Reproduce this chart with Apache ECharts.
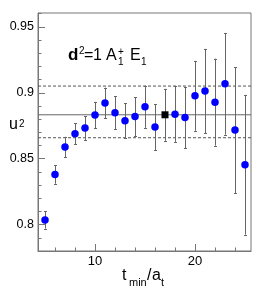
<!DOCTYPE html>
<html><head><meta charset="utf-8">
<script src="https://cdn.jsdelivr.net/npm/echarts@6/dist/echarts.min.js"></script>
<style>html,body{margin:0;padding:0;background:#fff}#c{width:266px;height:297px}</style>
</head><body><div id="c"></div>
<script>
// ---- data ----
const tmin  = [5, 6, 7, 8, 9, 10, 11, 12, 13, 14, 15, 16, 17, 18, 19, 20, 21, 22, 23, 24, 25];
const u2    = [0.8036, 0.8380, 0.8588, 0.8689, 0.8732, 0.8831, 0.8922, 0.8848, 0.8788, 0.8820, 0.8894,
               0.8740, 0.8833, 0.8838, 0.8813, 0.8977, 0.9013, 0.8929, 0.9068, 0.8717, 0.8454];
const u2err = [0.0066, 0.0070, 0.0078, 0.0080, 0.0090, 0.0100, 0.0117, 0.0124, 0.0134, 0.0148, 0.0160,
               0.0175, 0.0197, 0.0210, 0.0233, 0.0265, 0.0320, 0.0330, 0.0386, 0.0478, 0.0530];
const chosenT  = 17;
const fitValue = 0.8833;
const fitUpper = 0.9051;
const fitLower = 0.8659;
const xMajorTicks = [10, 20];
const xMinorTicks = [6, 8, 12, 14, 16, 18, 22, 24];
const yMajorTicks = [0.8, 0.85, 0.9, 0.95];
const yMinorTicks = [0.78, 0.79, 0.81, 0.82, 0.83, 0.84, 0.86, 0.87, 0.88, 0.89, 0.91, 0.92, 0.93, 0.94, 0.96];

// ---- chart ----
const FONT = 'Liberation Sans, Arial, sans-serif';
const AX = '#777';
const chart = echarts.init(document.getElementById('c'), null, {renderer: 'canvas'});
const XMIN = 4.3, XMAX = 25.6, YMIN = 0.78, YMAX = 0.9605;

const blueData = [], sqData = [], errData = [];
tmin.forEach((t, i) => {
  if (t === chosenT) sqData.push([t, u2[i]]); else blueData.push([t, u2[i]]);
  errData.push([t, u2[i] - u2err[i], u2[i] + u2err[i]]);
});

function txt(text, x, y, size, bold) {
  return {type: 'text', x: x, y: y, z: 10, style: {
    text: text, font: (bold ? 'bold ' : '') + size + 'px ' + FONT,
    fill: '#000', textVerticalAlign: 'bottom'}};
}
function hline(v, dashed) {
  return {
    type: 'line', xAxisIndex: 0, yAxisIndex: 0, z: 1, silent: true,
    data: [[XMIN, v], [XMAX, v]], symbol: 'none',
    lineStyle: {color: dashed ? '#555' : '#666', width: 1, type: dashed ? [3, 2] : 'solid'}
  };
}

chart.setOption({
  animation: false,
  grid: {left: 38, right: 15, top: 13, bottom: 46, show: true, borderColor: AX, borderWidth: 1, backgroundColor: 'transparent'},
  xAxis: [{
    type: 'value', min: XMIN, max: XMAX, position: 'bottom',
    axisLine: {show: true, lineStyle: {color: AX}},
    axisTick: {show: true, inside: true, length: 7, customValues: xMajorTicks, lineStyle: {color: AX}},
    axisLabel: {customValues: xMajorTicks, fontSize: 13, color: '#000', margin: 4, fontFamily: FONT},
    splitLine: {show: false}
  }, {
    type: 'value', min: XMIN, max: XMAX, position: 'bottom',
    axisLine: {show: false},
    axisTick: {show: true, inside: true, length: 3.5, customValues: xMinorTicks, lineStyle: {color: AX}},
    axisLabel: {show: false}, splitLine: {show: false}
  }],
  yAxis: [{
    type: 'value', min: YMIN, max: YMAX, position: 'left',
    axisLine: {show: true, lineStyle: {color: AX}},
    axisTick: {show: true, inside: true, length: 7, customValues: yMajorTicks, lineStyle: {color: AX}},
    axisLabel: {customValues: yMajorTicks, fontSize: 12.5, color: '#000', margin: 4, fontFamily: FONT,
      formatter: v => String(+v.toFixed(2))},
    splitLine: {show: false}
  }, {
    type: 'value', min: YMIN, max: YMAX, position: 'left',
    axisLine: {show: false},
    axisTick: {show: true, inside: true, length: 3.5, customValues: yMinorTicks, lineStyle: {color: AX}},
    axisLabel: {show: false}, splitLine: {show: false}
  }],
  series: [
    hline(fitValue, false),
    hline(fitUpper, true),
    hline(fitLower, true),
  {
    type: 'custom', xAxisIndex: 0, yAxisIndex: 0, z: 2,
    data: errData, encode: {x: 0, y: [1, 2]},
    renderItem: (params, api) => {
      const lo = api.coord([api.value(0), api.value(1)]);
      const hi = api.coord([api.value(0), api.value(2)]);
      const x = Math.round(lo[0]) + 0.5, c = 1.5;
      const st = {stroke: '#666', lineWidth: 1};
      return {type: 'group', children: [
        {type: 'line', shape: {x1: x, y1: lo[1], x2: x, y2: hi[1]}, style: st},
        {type: 'line', shape: {x1: x - c, y1: Math.round(lo[1]) + 0.5, x2: x + c, y2: Math.round(lo[1]) + 0.5}, style: st},
        {type: 'line', shape: {x1: x - c, y1: Math.round(hi[1]) + 0.5, x2: x + c, y2: Math.round(hi[1]) + 0.5}, style: st}
      ]};
    }
  }, {
    type: 'scatter', xAxisIndex: 0, yAxisIndex: 0, z: 3,
    data: blueData, symbol: 'circle', symbolSize: 7.5,
    itemStyle: {color: '#0000ff', opacity: 1}
  }, {
    type: 'scatter', xAxisIndex: 0, yAxisIndex: 0, z: 4,
    data: sqData, symbol: 'rect', symbolSize: 7,
    itemStyle: {color: '#000', opacity: 1}
  }],
  graphic: [
    txt('d', 68, 64, 17, true),
    txt('2', 79, 56, 10),
    txt('=', 84, 64, 16),
    txt('1', 93, 64, 16),
    txt('A', 106, 64, 16),
    txt('+', 118, 57, 10),
    txt('1', 118, 67, 10),
    txt('E', 130, 64, 16),
    txt('1', 141, 67, 10),
    txt('u', 9, 133, 16),
    txt('2', 19, 129, 10),
    txt('t', 122, 284, 16),
    txt('min', 129, 288, 11),
    txt('/', 147, 284, 16),
    txt('a', 152, 284, 16),
    txt('t', 161, 288, 11)
  ]
});
</script></body></html>
